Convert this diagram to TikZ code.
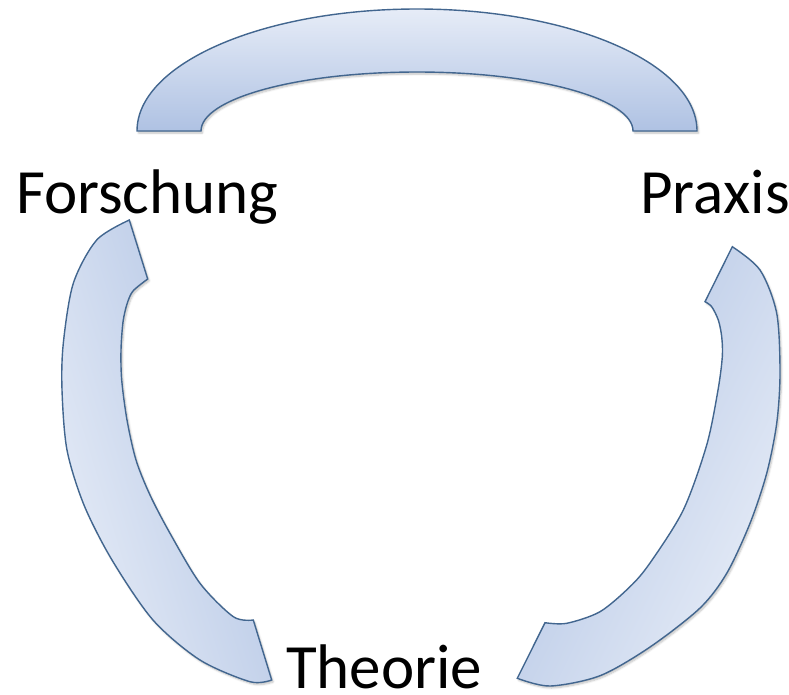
\documentclass[tikz,border=0pt]{standalone}
\usepackage{fontspec}
\setmainfont{Carlito}
\definecolor{arcline}{HTML}{42668F}
\definecolor{arclight}{HTML}{E6ECF7}
\definecolor{arcdark}{HTML}{AFC2E3}
\usetikzlibrary{shadows.blur}

\begin{document}
\begin{tikzpicture}[x=1pt, y=-1pt, every node/.style={font=\fontsize{63}{70}\selectfont}]
  \tikzset{arcbox/.style={draw=arcline, line width=1.4pt, shading=axis,
           top color=arclight, bottom color=arcdark,
           blur shadow={shadow xshift=1.5pt, shadow yshift=-2pt,
                        shadow blur steps=6, shadow opacity=25}},
           lbl/.style={anchor=base, inner sep=0pt, text depth=0pt}}
  \useasboundingbox (0,0) rectangle (789,694);

  % top arc
  \draw[arcbox] (137,131) arc[start angle=180, end angle=0, x radius=280pt, y radius=122pt]
    -- (633,131) arc[start angle=0, end angle=180, x radius=216pt, y radius=59pt] -- cycle;

  % left arc
  \draw[arcbox, shading angle=107]
    plot[smooth] coordinates {(129.3,220) (96.7,240) (73.3,283.3) (63.3,343.3) (62,390)
      (67,450) (84,505) (112,560) (153,620) (200,660) (250,681.7) (271.7,680)}
    -- plot[smooth] coordinates {(253.3,620) (233.3,616.7) (200,583.3) (170,533.3)
      (150,495) (136,460) (127,420) (121.7,380) (121,350) (123,322) (127,304) (133,291)
      (147.7,279)} -- cycle;

  % right arc
  \draw[arcbox, shading angle=244]
    plot[smooth] coordinates {(732.3,246.7) (760,270) (776.7,313.3) (780,373.3)
      (776.7,423.3) (766.7,473.3) (750,523.3) (726.7,573.3) (700,608) (650,647)
      (600,675.7) (550,686) (517.3,678.3)}
    -- plot[smooth] coordinates {(545,622.7) (566.7,623.3) (600,611.7) (630,586.7)
      (650,563) (683.3,510) (706.7,445) (718,390) (722.3,356.7) (721.7,336.7)
      (718.3,320) (711.7,306.7) (705,301.7)} -- cycle;

  \node[lbl] (forschung) at (147.3,213.3) {Forschung};
  \node[lbl] (praxis) at (715,213.3) {Praxis};
  \node[lbl] (theorie) at (384.2,688.3) {Theorie};
\end{tikzpicture}
\end{document}
